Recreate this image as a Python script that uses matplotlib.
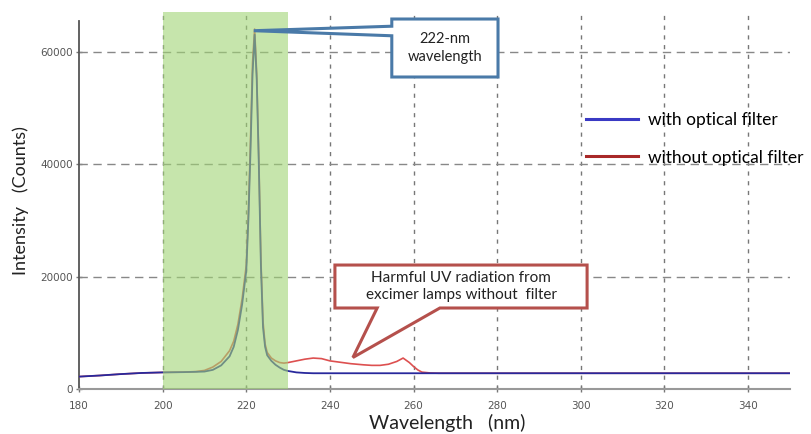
import numpy as np
import matplotlib.pyplot as plt
from matplotlib.patches import Polygon
from matplotlib.lines import Line2D

# DATOS leidos de la imagen
# longitud de onda (nm)
wl = [180, 185, 190, 195, 200, 205, 208, 210, 212, 214, 216, 217, 218, 219,
      220, 220.5, 221, 221.5, 222, 222.5, 223, 223.5, 224, 224.5, 225, 226,
      227, 228, 229, 230, 232, 234, 236, 238, 240, 242, 245, 248, 250, 252,
      254, 256, 257.5, 259, 260, 261, 262, 264, 266, 280, 300, 320, 340, 350]

# con filtro optico
con_filtro = [2200, 2400, 2650, 2850, 2950, 3000, 3050, 3100, 3400, 4200,
              5800, 7500, 10500, 15000, 21000, 30000, 42000, 56000, 63000,
              55000, 40000, 22000, 11000, 7500, 6000, 5000, 4300, 3800, 3400,
              3200, 2950, 2850, 2800, 2800, 2800, 2800, 2800, 2800, 2800,
              2800, 2800, 2800, 2800, 2800, 2800, 2800, 2800, 2800, 2800,
              2800, 2800, 2800, 2800, 2800]

# sin filtro optico
sin_filtro = [2200, 2400, 2650, 2850, 2950, 3000, 3100, 3300, 3900, 4900,
              6800, 8500, 11500, 16000, 22000, 31000, 44000, 58000, 64000,
              56000, 41000, 23000, 12000, 8000, 6500, 5500, 5000, 4700, 4600,
              4700, 5000, 5300, 5500, 5400, 5000, 4800, 4500, 4300, 4200,
              4200, 4400, 4900, 5500, 4700, 4000, 3400, 3000, 2850, 2800,
              2800, 2800, 2800, 2800, 2800]

xticks = [180, 200, 220, 240, 260, 280, 300, 320, 340]
yticks = [0, 20000, 40000, 60000]

# GRAFICA
fig = plt.figure(figsize=(8.11, 4.34), dpi=100)
ax = fig.add_axes([0.0974, 0.1037, 0.8766, 0.8683])

ax.plot(wl, sin_filtro, color='#dd5050', lw=1.2, zorder=3)
ax.plot(wl, con_filtro, color='#28289c', lw=1.3, zorder=4)

# region verde 200-230 nm, encima de las curvas
ax.axvspan(200, 230, color='#a0d475', alpha=0.6, lw=0, zorder=5)

ax.set_xlim(180, 350)
ax.set_ylim(0, 67000)
ax.set_xticks(xticks)
ax.set_yticks(yticks)

for x in xticks[1:]:
    ax.axvline(x, color='#777777', lw=1.0, ls=(0, (3, 4)), zorder=2)
for y in yticks[1:]:
    ax.axhline(y, color='#888888', lw=1.0, ls=(0, (6, 4)), zorder=2)

for s in ['top', 'right']:
    ax.spines[s].set_visible(False)
ax.spines['left'].set_bounds(0, 65500)
ax.spines['left'].set_color('#555555')
ax.spines['left'].set_linewidth(1.3)
ax.spines['bottom'].set_color('#999999')
ax.spines['bottom'].set_linewidth(1.5)
ax.tick_params(axis='both', direction='inout', length=5, width=1,
               color='#777777', labelcolor='#555555', labelsize=7.5)
ax.tick_params(axis='x', pad=6)
ax.tick_params(axis='y', pad=2)

ax.set_ylabel('Intensity   (Counts)', fontsize=13, family='Lato',
              color='#222222', labelpad=8)
ax.set_xlabel('Wavelength   (nm)', fontsize=14, family='Lato',
              color='#222222', labelpad=0)
ax.xaxis.set_label_coords(0.518, -0.065)


def globo(ax, caja, base, punta, texto, color, tam):
    # caja = (x0, x1, y0, y1); base: dos puntos sobre un borde de la caja
    x0, x1, y0, y1 = caja
    if base[0][0] == x0:  # puntero desde el borde izquierdo
        pts = [(x0, y1), (x1, y1), (x1, y0), (x0, y0),
               base[1], punta, base[0]]
    else:  # puntero desde el borde inferior
        pts = [(x0, y1), (x1, y1), (x1, y0), base[1], punta, base[0],
               (x0, y0)]
    ax.add_patch(Polygon(pts, closed=True, facecolor='white',
                         edgecolor=color, lw=2.2, zorder=8,
                         joinstyle='miter'))
    ax.text((x0 + x1) / 2, (y0 + y1) / 2, texto, ha='center', va='center',
            fontsize=tam, family='Lato', color='#222222', zorder=9,
            linespacing=1.35)


globo(ax, (254.8, 280.2, 55470, 65780),
      [(254.8, 64500), (254.8, 62800)], (221.8, 63700),
      '222-nm\nwavelength', '#4a7aa8', 10.5)

globo(ax, (241.2, 301.5, 14400, 22040),
      [(251.3, 14400), (266.3, 14400)], (245.5, 5600),
      'Harmful UV radiation from\nexcimer lamps without  filter',
      '#b5504c', 11)

manijas = [Line2D([], [], color='#3a3ac4', lw=2.2),
           Line2D([], [], color='#a82828', lw=2.2)]
ax.legend(manijas, ['with optical filter', 'without optical filter'],
          loc='upper left', bbox_to_anchor=(0.703, 0.754), frameon=False,
          prop={'family': 'Lato', 'size': 12.5}, handlelength=3.0,
          handletextpad=0.6, labelspacing=1.25, borderaxespad=0)

fig.savefig('out.png', dpi=100)
